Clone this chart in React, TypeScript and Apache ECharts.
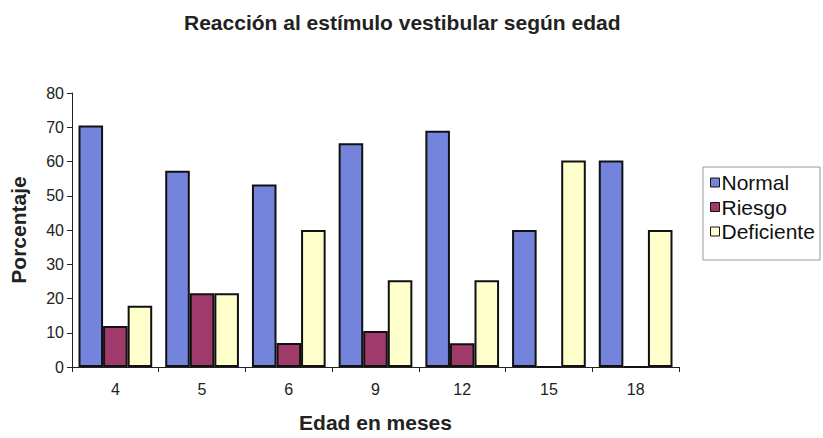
import React, { useEffect, useRef } from "react";
import * as echarts from "echarts";

const categories = ["4", "5", "6", "9", "12", "15", "18"];
const normal = [70.5, 57.3, 53.3, 65.3, 69, 40, 60.3];
const riesgo = [12, 21.5, 7, 10.5, 6.9, 0, 0];
const deficiente = [17.9, 21.5, 40, 25.3, 25.3, 60.3, 40];
const yTicks = { min: 0, max: 80, interval: 10 };

const FONT = "Liberation Sans, Arial, sans-serif";

export default function App() {
  const ref = useRef<HTMLDivElement>(null);
  useEffect(() => {
    if (!ref.current) return;
    const chart = echarts.init(ref.current, undefined, { renderer: "svg" });
    const border = { borderColor: "#111", borderWidth: 2 };
    chart.setOption({
      animation: false,
      backgroundColor: "#fff",
      textStyle: { fontFamily: FONT },
      title: {
        text: "Reacción al estímulo vestibular según edad",
        left: 184,
        top: 12,
        padding: 0,
        textStyle: { fontFamily: FONT, fontSize: 21, fontWeight: "bold", color: "#222" },
      },
      graphic: [
        {
          type: "rect",
          shape: { x: 703, y: 167, width: 117, height: 93 },
          style: { fill: "none", stroke: "#999", lineWidth: 1 },
        },
      ],
      legend: {
        orient: "vertical",
        left: 710,
        top: 172,
        padding: 0,
        itemGap: 3.5,
        itemWidth: 9,
        itemHeight: 9,
        icon: "rect",
        itemStyle: { borderColor: "#111", borderWidth: 1 },
        textStyle: { fontFamily: FONT, fontSize: 21, color: "#111", padding: [0, 0, 0, -3] },
        data: ["Normal", "Riesgo", "Deficiente"],
      },
      grid: { left: 72, right: 144, top: 93, bottom: 65 },
      xAxis: {
        type: "category",
        data: categories,
        name: "Edad en meses",
        nameLocation: "middle",
        nameGap: 45,
        nameTextStyle: { fontFamily: FONT, fontSize: 21, fontWeight: "bold", color: "#222" },
        axisLine: { lineStyle: { color: "#222", width: 1 } },
        axisTick: { show: true, length: 5, lineStyle: { color: "#222" } },
        axisLabel: { fontFamily: FONT, fontSize: 16, color: "#222", margin: 14 },
      },
      yAxis: {
        type: "value",
        min: yTicks.min,
        max: yTicks.max,
        interval: yTicks.interval,
        name: "Porcentaje",
        nameLocation: "middle",
        nameGap: 43,
        nameRotate: 90,
        nameTextStyle: { fontFamily: FONT, fontSize: 21, fontWeight: "bold", color: "#222" },
        axisLine: { show: true, lineStyle: { color: "#222", width: 1 } },
        axisTick: { show: true, length: 5, lineStyle: { color: "#222" } },
        axisLabel: { fontFamily: FONT, fontSize: 16, color: "#222", margin: 8 },
        splitLine: { show: false },
      },
      series: [
        {
          name: "Normal",
          type: "bar",
          data: normal,
          barGap: "0%",
          barCategoryGap: "15%",
          itemStyle: { color: "#7484dc", ...border },
        },
        {
          name: "Riesgo",
          type: "bar",
          data: riesgo,
          itemStyle: { color: "#a03a6a", ...border },
        },
        {
          name: "Deficiente",
          type: "bar",
          data: deficiente,
          itemStyle: { color: "#ffffcc", ...border },
        },
      ],
    });
    return () => chart.dispose();
  }, []);
  return (
    <div
      ref={ref}
      style={{ position: "fixed", left: 0, top: 0, width: 823, height: 438 }}
    />
  );
}
